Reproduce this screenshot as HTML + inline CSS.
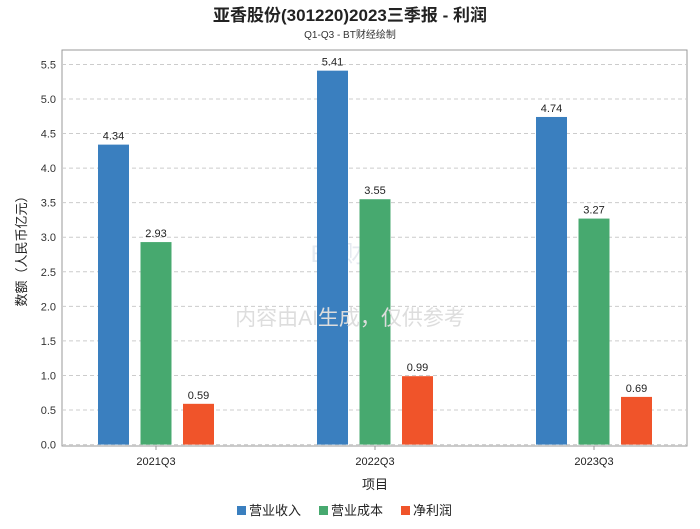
<!DOCTYPE html>
<html><head><meta charset="utf-8"><style>
body{margin:0;background:#fff;font-family:"Liberation Sans","Noto Sans CJK SC",sans-serif;}
</style></head><body>
<svg width="700" height="524" xmlns="http://www.w3.org/2000/svg" font-family="Liberation Sans, Noto Sans CJK SC, sans-serif">
<rect width="700" height="524" fill="#fff"/>
<text x="350" y="21" text-anchor="middle" font-size="17" font-weight="bold" fill="#222">亚香股份(301220)2023三季报 - 利润</text>
<text x="350" y="38" text-anchor="middle" font-size="10" fill="#333">Q1-Q3 - BT财经绘制</text>
<rect x="62" y="50" width="625" height="396" fill="none" stroke="#999"/>
<g id="grid"></g>
<text x="350" y="262" text-anchor="middle" font-size="24" fill="#e6eaf0">BT财经</text>
<g id="bars"></g>
<text x="350" y="325" text-anchor="middle" font-size="21" fill="#ddd">内容由AI生成，仅供参考</text>
<text x="26" y="248" text-anchor="middle" font-size="13" fill="#222" transform="rotate(-90 26 248)">数额（人民币亿元）</text>
<text x="375" y="489" text-anchor="middle" font-size="13" fill="#222">项目</text>
<g id="legend"></g>
</svg>
<script>
const categories=["2021Q3","2022Q3","2023Q3"];
const seriesNames=["营业收入","营业成本","净利润"];
const revenue=[4.34,5.41,4.74];
const cost=[2.93,3.55,3.27];
const profit=[0.59,0.99,0.69];
const yTicks=[0,0.5,1,1.5,2,2.5,3,3.5,4,4.5,5,5.5];
const colors=["#3a7fbf","#47a96f","#f0542a"];
const NS="http://www.w3.org/2000/svg";
const x0=62,x1=687,yBase=444.6,unit=69.12;
const y=v=>yBase-v*unit;
const gw=219;
const xc=i=>375+(i-(categories.length-1)/2)*gw;
function mk(t,a,p){const e=document.createElementNS(NS,t);for(const k in a)e.setAttribute(k,a[k]);p.appendChild(e);return e;}
const grid=document.getElementById('grid');
yTicks.forEach(v=>{
 const l=mk('line',{x1:x0,x2:x1,y1:y(v),y2:y(v),stroke:'#ccc','stroke-dasharray':'4,3'},grid);
 
 
 const t=mk('text',{x:56,y:y(v)+4,'text-anchor':'end','font-size':'11',fill:'#333'},grid);
 t.textContent=v.toFixed(1);
 
 
});
const bars=document.getElementById('bars');
const series=[revenue,cost,profit];
categories.forEach((c,i)=>{
 series.forEach((s,j)=>{
  const cx=xc(i)+(j-1)*42.5;
  const r=mk('rect',{x:cx-15.5,y:y(s[i]),width:31,height:yBase-y(s[i]),fill:colors[j]},bars);
  
  
  const t=mk('text',{x:cx,y:y(s[i])-5,'text-anchor':'middle','font-size':'11',fill:'#222'},bars);
  t.textContent=s[i].toFixed(2);
  
  
 });
 const tk=mk('line',{x1:xc(i),x2:xc(i),y1:446,y2:450,stroke:'#999'},bars);
 
 
 const t=mk('text',{x:xc(i),y:465,'text-anchor':'middle','font-size':'11',fill:'#222'},bars);
 t.textContent=c;
 
 
});
const lg=document.getElementById('legend');
const lx=[237,319,401];
seriesNames.forEach((n,j)=>{
 const r=mk('rect',{x:lx[j],y:506,width:9,height:9,fill:colors[j]},lg);
 
 
 const t=mk('text',{x:lx[j]+12,y:515,'font-size':'13',fill:'#222'},lg);
 t.textContent=n;
 
 
});
</script>
</body></html>
